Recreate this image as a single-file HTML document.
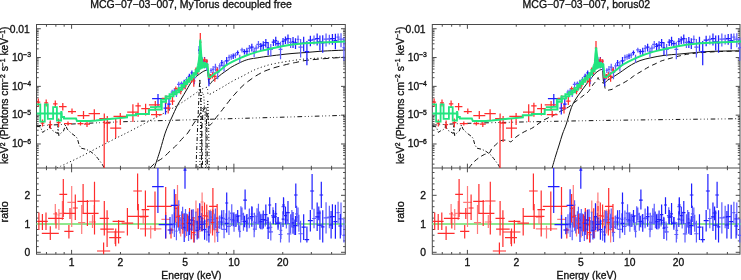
<!DOCTYPE html>
<html><head><meta charset="utf-8"><style>
html,body{margin:0;padding:0;background:#fff;width:741px;height:280px;overflow:hidden}
svg{display:block;will-change:transform;filter:blur(0.35px)}
</style></head><body>
<svg width="741" height="280" viewBox="0 0 741 280">
<defs><clipPath id="cu"><rect x="36.5" y="24.5" width="308.8" height="143.5"/></clipPath><clipPath id="cr"><rect x="36.5" y="168" width="308.8" height="86.2"/></clipPath></defs><rect x="36.5" y="24.5" width="308.8" height="229.7" fill="none" stroke="#4a4a4a" stroke-width="1"/>
<line x1="36.5" y1="168" x2="345.3" y2="168" stroke="#4a4a4a" stroke-width="1"/>
<path d="M46.46 24.5v2.2M46.46 168v-2.2M46.46 168v2.2M46.46 254.2v-2.2M55.87 24.5v2.2M55.87 168v-2.2M55.87 168v2.2M55.87 254.2v-2.2M64.17 24.5v2.2M64.17 168v-2.2M64.17 168v2.2M64.17 254.2v-2.2M71.6 24.5v4.3M71.6 168v-4.3M71.6 168v4.3M71.6 254.2v-4.3M120.46 24.5v2.2M120.46 168v-2.2M120.46 168v2.2M120.46 254.2v-2.2M149.04 24.5v2.2M149.04 168v-2.2M149.04 168v2.2M149.04 254.2v-2.2M169.31 24.5v2.2M169.31 168v-2.2M169.31 168v2.2M169.31 254.2v-2.2M185.04 24.5v2.2M185.04 168v-2.2M185.04 168v2.2M185.04 254.2v-2.2M197.89 24.5v2.2M197.89 168v-2.2M197.89 168v2.2M197.89 254.2v-2.2M208.76 24.5v2.2M208.76 168v-2.2M208.76 168v2.2M208.76 254.2v-2.2M218.17 24.5v2.2M218.17 168v-2.2M218.17 168v2.2M218.17 254.2v-2.2M226.47 24.5v2.2M226.47 168v-2.2M226.47 168v2.2M226.47 254.2v-2.2M233.9 24.5v4.3M233.9 168v-4.3M233.9 168v4.3M233.9 254.2v-4.3M282.76 24.5v2.2M282.76 168v-2.2M282.76 168v2.2M282.76 254.2v-2.2M311.34 24.5v2.2M311.34 168v-2.2M311.34 168v2.2M311.34 254.2v-2.2M331.61 24.5v2.2M331.61 168v-2.2M331.61 168v2.2M331.61 254.2v-2.2M36.5 164.12h2.2M345.3 164.12h-2.2M36.5 159.04h2.2M345.3 159.04h-2.2M36.5 155.44h2.2M345.3 155.44h-2.2M36.5 152.65h2.2M345.3 152.65h-2.2M36.5 150.37h2.2M345.3 150.37h-2.2M36.5 148.44h2.2M345.3 148.44h-2.2M36.5 146.77h2.2M345.3 146.77h-2.2M36.5 145.3h2.2M345.3 145.3h-2.2M36.5 143.98h4.3M345.3 143.98h-4.3M36.5 135.31h2.2M345.3 135.31h-2.2M36.5 130.23h2.2M345.3 130.23h-2.2M36.5 126.63h2.2M345.3 126.63h-2.2M36.5 123.84h2.2M345.3 123.84h-2.2M36.5 121.56h2.2M345.3 121.56h-2.2M36.5 119.63h2.2M345.3 119.63h-2.2M36.5 117.96h2.2M345.3 117.96h-2.2M36.5 116.49h2.2M345.3 116.49h-2.2M36.5 115.17h4.3M345.3 115.17h-4.3M36.5 106.5h2.2M345.3 106.5h-2.2M36.5 101.42h2.2M345.3 101.42h-2.2M36.5 97.82h2.2M345.3 97.82h-2.2M36.5 95.03h2.2M345.3 95.03h-2.2M36.5 92.75h2.2M345.3 92.75h-2.2M36.5 90.82h2.2M345.3 90.82h-2.2M36.5 89.15h2.2M345.3 89.15h-2.2M36.5 87.68h2.2M345.3 87.68h-2.2M36.5 86.36h4.3M345.3 86.36h-4.3M36.5 77.69h2.2M345.3 77.69h-2.2M36.5 72.61h2.2M345.3 72.61h-2.2M36.5 69.01h2.2M345.3 69.01h-2.2M36.5 66.22h2.2M345.3 66.22h-2.2M36.5 63.94h2.2M345.3 63.94h-2.2M36.5 62.01h2.2M345.3 62.01h-2.2M36.5 60.34h2.2M345.3 60.34h-2.2M36.5 58.87h2.2M345.3 58.87h-2.2M36.5 57.55h4.3M345.3 57.55h-4.3M36.5 48.88h2.2M345.3 48.88h-2.2M36.5 43.8h2.2M345.3 43.8h-2.2M36.5 40.2h2.2M345.3 40.2h-2.2M36.5 37.41h2.2M345.3 37.41h-2.2M36.5 35.13h2.2M345.3 35.13h-2.2M36.5 33.2h2.2M345.3 33.2h-2.2M36.5 31.53h2.2M345.3 31.53h-2.2M36.5 30.06h2.2M345.3 30.06h-2.2M36.5 28.74h4.3M345.3 28.74h-4.3M36.5 252.3h4.3M345.3 252.3h-4.3M36.5 246.6h2.2M345.3 246.6h-2.2M36.5 240.9h2.2M345.3 240.9h-2.2M36.5 235.2h2.2M345.3 235.2h-2.2M36.5 229.5h2.2M345.3 229.5h-2.2M36.5 223.8h4.3M345.3 223.8h-4.3M36.5 218.1h2.2M345.3 218.1h-2.2M36.5 212.4h2.2M345.3 212.4h-2.2M36.5 206.7h2.2M345.3 206.7h-2.2M36.5 201h2.2M345.3 201h-2.2M36.5 195.3h4.3M345.3 195.3h-4.3M36.5 189.6h2.2M345.3 189.6h-2.2M36.5 183.9h2.2M345.3 183.9h-2.2M36.5 178.2h2.2M345.3 178.2h-2.2M36.5 172.5h2.2M345.3 172.5h-2.2" stroke="#4a4a4a" stroke-width="1" fill="none"/>
<g font-family='"Liberation Sans", sans-serif' font-size="10.3" fill="#111" stroke="#111" stroke-width="0.32"><text x="71.6" y="265.6" text-anchor="middle">1</text><text x="120.46" y="265.6" text-anchor="middle">2</text><text x="185.04" y="265.6" text-anchor="middle">5</text><text x="233.9" y="265.6" text-anchor="middle">10</text><text x="282.76" y="265.6" text-anchor="middle">20</text><text x="29.8" y="33.24" text-anchor="end">0.01</text><text x="31.1" y="60.85" text-anchor="end">10<tspan font-size="6.8" dy="-3.6">−3</tspan></text><text x="31.1" y="89.66" text-anchor="end">10<tspan font-size="6.8" dy="-3.6">−4</tspan></text><text x="31.1" y="118.47" text-anchor="end">10<tspan font-size="6.8" dy="-3.6">−5</tspan></text><text x="31.1" y="147.28" text-anchor="end">10<tspan font-size="6.8" dy="-3.6">−6</tspan></text><text x="30.3" y="256" text-anchor="end">0</text><text x="30.3" y="227.5" text-anchor="end">1</text><text x="30.3" y="199" text-anchor="end">2</text><text x="191.4" y="278.6" text-anchor="middle">Energy (keV)</text><text x="191.1" y="7.7" text-anchor="middle" font-size="10.5">MCG−07−03−007, MyTorus decoupled free</text><text transform="translate(8.2,95.35) rotate(-90)" text-anchor="middle">keV<tspan font-size="6.8" dy="-3.6">2</tspan><tspan dy="3.6"> (Photons cm</tspan><tspan font-size="6.8" dy="-3.6">−2</tspan><tspan dy="3.6"> s</tspan><tspan font-size="6.8" dy="-3.6">−1</tspan><tspan dy="3.6"> keV</tspan><tspan font-size="6.8" dy="-3.6">−1</tspan><tspan dy="3.6">)</tspan></text><text transform="translate(8.2,211.9) rotate(-90)" text-anchor="middle" font-size="10.9">ratio</text></g><rect x="432.3" y="24.5" width="307.7" height="229.7" fill="none" stroke="#4a4a4a" stroke-width="1"/>
<line x1="432.3" y1="168" x2="740" y2="168" stroke="#4a4a4a" stroke-width="1"/>
<path d="M442.26 24.5v2.2M442.26 168v-2.2M442.26 168v2.2M442.26 254.2v-2.2M451.67 24.5v2.2M451.67 168v-2.2M451.67 168v2.2M451.67 254.2v-2.2M459.97 24.5v2.2M459.97 168v-2.2M459.97 168v2.2M459.97 254.2v-2.2M467.4 24.5v4.3M467.4 168v-4.3M467.4 168v4.3M467.4 254.2v-4.3M516.26 24.5v2.2M516.26 168v-2.2M516.26 168v2.2M516.26 254.2v-2.2M544.84 24.5v2.2M544.84 168v-2.2M544.84 168v2.2M544.84 254.2v-2.2M565.11 24.5v2.2M565.11 168v-2.2M565.11 168v2.2M565.11 254.2v-2.2M580.84 24.5v2.2M580.84 168v-2.2M580.84 168v2.2M580.84 254.2v-2.2M593.69 24.5v2.2M593.69 168v-2.2M593.69 168v2.2M593.69 254.2v-2.2M604.56 24.5v2.2M604.56 168v-2.2M604.56 168v2.2M604.56 254.2v-2.2M613.97 24.5v2.2M613.97 168v-2.2M613.97 168v2.2M613.97 254.2v-2.2M622.27 24.5v2.2M622.27 168v-2.2M622.27 168v2.2M622.27 254.2v-2.2M629.7 24.5v4.3M629.7 168v-4.3M629.7 168v4.3M629.7 254.2v-4.3M678.56 24.5v2.2M678.56 168v-2.2M678.56 168v2.2M678.56 254.2v-2.2M707.14 24.5v2.2M707.14 168v-2.2M707.14 168v2.2M707.14 254.2v-2.2M727.41 24.5v2.2M727.41 168v-2.2M727.41 168v2.2M727.41 254.2v-2.2M432.3 164.12h2.2M740 164.12h-2.2M432.3 159.04h2.2M740 159.04h-2.2M432.3 155.44h2.2M740 155.44h-2.2M432.3 152.65h2.2M740 152.65h-2.2M432.3 150.37h2.2M740 150.37h-2.2M432.3 148.44h2.2M740 148.44h-2.2M432.3 146.77h2.2M740 146.77h-2.2M432.3 145.3h2.2M740 145.3h-2.2M432.3 143.98h4.3M740 143.98h-4.3M432.3 135.31h2.2M740 135.31h-2.2M432.3 130.23h2.2M740 130.23h-2.2M432.3 126.63h2.2M740 126.63h-2.2M432.3 123.84h2.2M740 123.84h-2.2M432.3 121.56h2.2M740 121.56h-2.2M432.3 119.63h2.2M740 119.63h-2.2M432.3 117.96h2.2M740 117.96h-2.2M432.3 116.49h2.2M740 116.49h-2.2M432.3 115.17h4.3M740 115.17h-4.3M432.3 106.5h2.2M740 106.5h-2.2M432.3 101.42h2.2M740 101.42h-2.2M432.3 97.82h2.2M740 97.82h-2.2M432.3 95.03h2.2M740 95.03h-2.2M432.3 92.75h2.2M740 92.75h-2.2M432.3 90.82h2.2M740 90.82h-2.2M432.3 89.15h2.2M740 89.15h-2.2M432.3 87.68h2.2M740 87.68h-2.2M432.3 86.36h4.3M740 86.36h-4.3M432.3 77.69h2.2M740 77.69h-2.2M432.3 72.61h2.2M740 72.61h-2.2M432.3 69.01h2.2M740 69.01h-2.2M432.3 66.22h2.2M740 66.22h-2.2M432.3 63.94h2.2M740 63.94h-2.2M432.3 62.01h2.2M740 62.01h-2.2M432.3 60.34h2.2M740 60.34h-2.2M432.3 58.87h2.2M740 58.87h-2.2M432.3 57.55h4.3M740 57.55h-4.3M432.3 48.88h2.2M740 48.88h-2.2M432.3 43.8h2.2M740 43.8h-2.2M432.3 40.2h2.2M740 40.2h-2.2M432.3 37.41h2.2M740 37.41h-2.2M432.3 35.13h2.2M740 35.13h-2.2M432.3 33.2h2.2M740 33.2h-2.2M432.3 31.53h2.2M740 31.53h-2.2M432.3 30.06h2.2M740 30.06h-2.2M432.3 28.74h4.3M740 28.74h-4.3M432.3 252.3h4.3M740 252.3h-4.3M432.3 246.6h2.2M740 246.6h-2.2M432.3 240.9h2.2M740 240.9h-2.2M432.3 235.2h2.2M740 235.2h-2.2M432.3 229.5h2.2M740 229.5h-2.2M432.3 223.8h4.3M740 223.8h-4.3M432.3 218.1h2.2M740 218.1h-2.2M432.3 212.4h2.2M740 212.4h-2.2M432.3 206.7h2.2M740 206.7h-2.2M432.3 201h2.2M740 201h-2.2M432.3 195.3h4.3M740 195.3h-4.3M432.3 189.6h2.2M740 189.6h-2.2M432.3 183.9h2.2M740 183.9h-2.2M432.3 178.2h2.2M740 178.2h-2.2M432.3 172.5h2.2M740 172.5h-2.2" stroke="#4a4a4a" stroke-width="1" fill="none"/>
<g font-family='"Liberation Sans", sans-serif' font-size="10.3" fill="#111" stroke="#111" stroke-width="0.32"><text x="467.4" y="265.6" text-anchor="middle">1</text><text x="516.26" y="265.6" text-anchor="middle">2</text><text x="580.84" y="265.6" text-anchor="middle">5</text><text x="629.7" y="265.6" text-anchor="middle">10</text><text x="678.56" y="265.6" text-anchor="middle">20</text><text x="425.6" y="33.24" text-anchor="end">0.01</text><text x="426.9" y="60.85" text-anchor="end">10<tspan font-size="6.8" dy="-3.6">−3</tspan></text><text x="426.9" y="89.66" text-anchor="end">10<tspan font-size="6.8" dy="-3.6">−4</tspan></text><text x="426.9" y="118.47" text-anchor="end">10<tspan font-size="6.8" dy="-3.6">−5</tspan></text><text x="426.9" y="147.28" text-anchor="end">10<tspan font-size="6.8" dy="-3.6">−6</tspan></text><text x="426.1" y="256" text-anchor="end">0</text><text x="426.1" y="227.5" text-anchor="end">1</text><text x="426.1" y="199" text-anchor="end">2</text><text x="586.65" y="278.6" text-anchor="middle">Energy (keV)</text><text x="586.35" y="7.7" text-anchor="middle" font-size="10.5">MCG−07−03−007, borus02</text><text transform="translate(404,95.35) rotate(-90)" text-anchor="middle">keV<tspan font-size="6.8" dy="-3.6">2</tspan><tspan dy="3.6"> (Photons cm</tspan><tspan font-size="6.8" dy="-3.6">−2</tspan><tspan dy="3.6"> s</tspan><tspan font-size="6.8" dy="-3.6">−1</tspan><tspan dy="3.6"> keV</tspan><tspan font-size="6.8" dy="-3.6">−1</tspan><tspan dy="3.6">)</tspan></text><text transform="translate(404,211.9) rotate(-90)" text-anchor="middle" font-size="10.9">ratio</text></g><g clip-path="url(#cu)" transform="translate(0,0)"><path d="M154.3 168C154.83 166.42 156.47 161.65 157.5 158.5C158.53 155.35 159.27 153.2 160.5 149.1C161.73 145 163.52 138.08 164.9 133.9C166.28 129.72 167.62 126.82 168.8 124C169.98 121.18 171.05 119.08 172 117C172.95 114.92 173.53 113.58 174.5 111.5C175.47 109.42 176.73 106.5 177.8 104.5C178.87 102.5 179.87 101.2 180.9 99.5C181.93 97.8 182.82 96.3 184 94.3C185.18 92.3 186.62 89.78 188 87.5C189.38 85.22 190.87 82.47 192.3 80.6C193.73 78.73 195.42 77.38 196.6 76.3C197.78 75.22 198.45 74.82 199.4 74.1C200.35 73.38 201.35 72.58 202.3 72C203.25 71.42 204.22 70.93 205.1 70.6C205.98 70.27 207.18 70.1 207.6 70M207.6 70.3C207.9 72.5 208.5 81.8 209.4 83.5C210.3 85.2 211.67 81.5 213 80.5C214.33 79.5 216 78.55 217.4 77.5C218.8 76.45 219.63 75.53 221.4 74.2C223.17 72.87 226.22 70.75 228 69.5C229.78 68.25 229.63 68.07 232.1 66.7C234.57 65.33 239.82 62.58 242.8 61.3C245.78 60.02 247.62 59.57 250 59C252.38 58.43 254.43 58.32 257.1 57.9C259.77 57.48 262.18 57.02 266 56.5C269.82 55.98 275.67 55.3 280 54.8C284.33 54.3 287.67 53.88 292 53.5C296.33 53.12 301.33 52.87 306 52.5C310.67 52.13 315.17 51.63 320 51.3C324.83 50.97 330.78 50.7 335 50.5C339.22 50.3 343.58 50.17 345.3 50.1" stroke="#111" stroke-width="1" fill="none"/><path d="M57 168C57.5 167.75 58.97 167 60 166.5C61.03 166 59.87 166.58 63.2 165C66.53 163.42 73.87 160.08 80 157C86.13 153.92 94 149.63 100 146.5C106 143.37 111 140.75 116 138.2C121 135.65 124.33 134.13 130 131.2C135.67 128.27 144.5 123.52 150 120.6C155.5 117.68 158.53 116.18 163 113.7C167.47 111.22 172.63 108.23 176.8 105.7C180.97 103.17 184.43 100.88 188 98.5C191.57 96.12 195.87 92.98 198.2 91.4C200.53 89.82 200.43 89.73 202 89C203.57 88.27 206.67 87.33 207.6 87M207.6 89C207.72 89.92 207.47 93.88 208.3 94.5C209.13 95.12 211.35 93.3 212.6 92.7C213.85 92.1 214.85 91.43 215.8 90.9C216.75 90.37 217.43 89.98 218.3 89.5C219.17 89.02 220.05 88.54 221 88C221.95 87.46 223 86.85 224 86.25C225 85.65 226 85.01 227 84.4C228 83.79 228.5 83.45 230 82.6C231.5 81.75 234 80.33 236 79.3C238 78.27 239.43 77.73 242 76.4C244.57 75.07 249.3 72.4 251.4 71.3C253.5 70.2 253.52 70.27 254.6 69.8C255.68 69.33 256.82 68.92 257.9 68.5C258.98 68.08 260.03 67.67 261.1 67.3C262.17 66.93 262.82 66.75 264.3 66.3C265.78 65.85 267.38 65.22 270 64.6C272.62 63.98 276.43 63.25 280 62.6C283.57 61.95 288.9 61.1 291.4 60.7C293.9 60.3 293.8 60.37 295 60.2C296.2 60.03 297.42 59.85 298.6 59.7C299.78 59.55 300.2 59.48 302.1 59.3C304 59.12 307.02 58.8 310 58.6C312.98 58.4 315.83 58.28 320 58.1C324.17 57.92 330.78 57.67 335 57.5C339.22 57.33 343.58 57.17 345.3 57.1" stroke="#111" stroke-width="1" stroke-dasharray="1.1 2.5" fill="none"/><path d="M150 168C150.9 167.12 153.62 164.13 155.4 162.7C157.18 161.27 159.1 160.52 160.7 159.4C162.3 158.28 163.22 157.6 165 156C166.78 154.4 169.62 151.47 171.4 149.8C173.18 148.13 174.6 147.05 175.7 146C176.8 144.95 176.75 144.9 178 143.5C179.25 142.1 181.7 139.18 183.2 137.6C184.7 136.02 185.87 135.35 187 134C188.13 132.65 188.83 131.33 190 129.5C191.17 127.67 192.83 124.75 194 123C195.17 121.25 196 120.5 197 119C198 117.5 199.17 115.58 200 114C200.83 112.42 201.28 110.62 202 109.5C202.72 108.38 203.58 107.42 204.3 107.3C205.02 107.18 205.78 107.93 206.3 108.8C206.82 109.67 207.08 110.72 207.4 112.5C207.72 114.28 207.88 117.37 208.2 119.5C208.52 121.63 208.58 124.8 209.3 125.3C210.02 125.8 211.35 123.8 212.5 122.5C213.65 121.2 214.95 119.12 216.2 117.5C217.45 115.88 218.92 114.17 220 112.8C221.08 111.43 221.7 110.6 222.7 109.3C223.7 108 224.45 107 226 105C227.55 103 230.5 99.13 232 97.3C233.5 95.47 233.92 95.22 235 94C236.08 92.78 237.33 91.25 238.5 90C239.67 88.75 240.83 87.62 242 86.5C243.17 85.38 244.17 84.38 245.5 83.3C246.83 82.22 248.53 81.07 250 80C251.47 78.93 252.87 77.85 254.3 76.9C255.73 75.95 257.23 75.08 258.6 74.3C259.97 73.52 261.27 72.82 262.5 72.2C263.73 71.58 263.92 71.38 266 70.6C268.08 69.82 271 68.67 275 67.5C279 66.33 286.55 64.43 290 63.6C293.45 62.77 293.92 62.87 295.7 62.5C297.48 62.13 298.98 61.75 300.7 61.4C302.42 61.05 302.78 60.8 306 60.4C309.22 60 315.17 59.42 320 59C324.83 58.58 330.78 58.18 335 57.9C339.22 57.62 343.58 57.4 345.3 57.3" stroke="#111" stroke-width="1" stroke-dasharray="6 4" fill="none"/><path d="M36.5 125.8C40.42 125.6 49.42 125.12 60 124.6C70.58 124.08 88.33 123.22 100 122.7C111.67 122.18 116.67 121.93 130 121.5C143.33 121.07 155.83 120.78 180 120.1C204.17 119.42 247.33 118.2 275 117.4C302.67 116.6 334.17 115.65 346 115.3" stroke="#111" stroke-width="1" stroke-dasharray="4.6 2.6 0.8 2.6 0.8 2.6 0.8 2.6" fill="none"/><path d="M36.5 126L39 126.5L40.5 127L42.6 132.4L44.5 131L47 130L49.4 128L50 122.2L50.6 128L52.5 130.5L55 132L57.5 133.5L58.1 125.4L58.8 135.6L61 133L63.5 131L65.6 125L67.2 129.1L69.5 131.5L71.6 133.4L75.9 136.6L77.4 138.6L79.1 145L81.2 148.2L86 149.3L90.3 151.4L95.1 155L97.8 158.4L102.4 164.5L104.2 168" stroke="#111" stroke-width="1" stroke-dasharray="4 2 1 2" fill="none"/><path d="M196 168L197.5 130L199.2 90L199.8 79L200.4 90L201.6 130L202.6 168" stroke="#111" stroke-width="1" stroke-dasharray="4 2 1 2" fill="none"/><path d="M199.8 168L200.6 120L201.4 96L202.2 92L203.8 96L205.2 120L206.4 168" stroke="#111" stroke-width="1" stroke-dasharray="1 2" fill="none"/><path d="M201.3 168L202 125L203.2 110L204.6 108L206 112L206.9 130L207.4 168" stroke="#111" stroke-width="1" stroke-dasharray="5 3" fill="none"/><path d="M205.6 168L206.2 130L207 110L207.8 100L208.6 120L209.2 168" stroke="#111" stroke-width="1" stroke-dasharray="1 2" fill="none"/></g><g clip-path="url(#cu)" transform="translate(395.8,0)"><path d="M156.3 168C156.88 166 158.63 159.83 159.8 156C160.97 152.17 162.15 148.67 163.3 145C164.45 141.33 165.5 137.5 166.7 134C167.9 130.5 169.02 128.42 170.5 124C171.98 119.58 174.02 111.67 175.6 107.5C177.18 103.33 178.57 101.42 180 99C181.43 96.58 182.53 95.33 184.2 93C185.87 90.67 188.22 87.37 190 85C191.78 82.63 193.4 80.67 194.9 78.8C196.4 76.93 197.57 75.22 199 73.8C200.43 72.38 202.18 71.05 203.5 70.3C204.82 69.55 206.33 69.47 206.9 69.3M206.9 69.3C207.08 71.5 207.15 80.72 208 82.5C208.85 84.28 210.33 81 212 80C213.67 79 215.97 77.75 218 76.5C220.03 75.25 222.33 73.75 224.2 72.5C226.07 71.25 227.3 70.28 229.2 69C231.1 67.72 233.1 66.2 235.6 64.8C238.1 63.4 240.97 61.77 244.2 60.6C247.43 59.43 251 58.67 255 57.8C259 56.93 263.37 56.03 268.2 55.4C273.03 54.77 278.7 54.48 284 54C289.3 53.52 294.83 52.93 300 52.5C305.17 52.07 310 51.65 315 51.4C320 51.15 325.13 51.1 330 51C334.87 50.9 341.83 50.83 344.2 50.8" stroke="#111" stroke-width="1" fill="none"/><path d="M73.1 168C73.92 167 76.22 163.78 78 162C79.78 160.22 82.05 158.55 83.8 157.3C85.55 156.05 86.85 155.25 88.5 154.5C90.15 153.75 92.45 153.8 93.7 152.8C94.95 151.8 94.97 149.83 96 148.5C97.03 147.17 98.73 145.88 99.9 144.8C101.07 143.72 101.95 142.75 103 142C104.05 141.25 104.78 140.58 106.2 140.3C107.62 140.02 110.12 140.05 111.5 140.3C112.88 140.55 113.75 141.65 114.5 141.8C115.25 141.95 115.25 141.83 116 141.2C116.75 140.57 117.82 139.03 119 138C120.18 136.97 121.43 136.08 123.1 135C124.77 133.92 126.92 132.58 129 131.5C131.08 130.42 133.73 129.5 135.6 128.5C137.47 127.5 138.27 126.83 140.2 125.5C142.13 124.17 144.53 122.08 147.2 120.5C149.87 118.92 154.03 117.08 156.2 116C158.37 114.92 158.73 114.83 160.2 114C161.67 113.17 163.33 111.92 165 111C166.67 110.08 168.67 109.33 170.2 108.5C171.73 107.67 172.7 107.08 174.2 106C175.7 104.92 177.28 103.5 179.2 102C181.12 100.5 184.07 98.25 185.7 97C187.33 95.75 187.83 95.42 189 94.5C190.17 93.58 191.37 93.08 192.7 91.5C194.03 89.92 195.87 86.58 197 85C198.13 83.42 198.8 82.8 199.5 82C200.2 81.2 200.75 80.95 201.2 80.2C201.65 79.45 201.87 77.62 202.2 77.5C202.53 77.38 202.58 78.7 203.2 79.5C203.82 80.3 204.97 81.63 205.9 82.3C206.83 82.97 208.32 83.3 208.8 83.5M208.8 83.5C208.9 84.35 208.87 87.48 209.4 88.6C209.93 89.72 211.23 90 212 90.2C212.77 90.4 213.23 89.97 214 89.8C214.77 89.63 215.45 89.8 216.6 89.2C217.75 88.6 219.63 86.93 220.9 86.2C222.17 85.47 222.78 85.52 224.2 84.8C225.62 84.08 227.83 82.82 229.4 81.9C230.97 80.98 232.25 80.23 233.6 79.3C234.95 78.37 236.07 77.3 237.5 76.3C238.93 75.3 240.73 74.2 242.2 73.3C243.67 72.4 244.9 71.73 246.3 70.9C247.7 70.07 249.23 69.1 250.6 68.3C251.97 67.5 253.07 66.82 254.5 66.1C255.93 65.38 257.7 64.7 259.2 64C260.7 63.3 262 62.55 263.5 61.9C265 61.25 264.62 61.15 268.2 60.1C271.78 59.05 280.53 56.67 285 55.6C289.47 54.53 290.83 54.25 295 53.7C299.17 53.15 305 52.67 310 52.3C315 51.93 319.3 51.7 325 51.5C330.7 51.3 341 51.17 344.2 51.1" stroke="#111" stroke-width="1" stroke-dasharray="5 3.5" fill="none"/><path d="M36.5 125.2C41.08 124.93 53.42 124.03 64 123.6C74.58 123.17 86.67 122.93 100 122.6C113.33 122.27 126.67 121.95 144 121.6C161.33 121.25 183 120.83 204 120.5C225 120.17 246.45 119.9 270 119.6C293.55 119.3 332.75 118.85 345.3 118.7" stroke="#111" stroke-width="1" stroke-dasharray="4.6 2.6 0.8 2.6 0.8 2.6 0.8 2.6" fill="none"/><path d="M36.5 126L39 126.5L40.5 127L42.6 132.4L44.5 131L47 130L49.4 128L50 122.2L50.6 128L52.5 130.5L55 132L57.5 133.5L58.1 125.4L58.8 135.6L61 133L63.5 131L65.6 125L67.2 129.1L69.5 131.5L71.6 133.4L75.9 136.6L77.4 138.6L79.1 145L81.2 148.2L86 149.3L90.3 151.4L95.1 155L97.8 158.4L102.4 164.5L104.2 168" stroke="#111" stroke-width="1" stroke-dasharray="4 2 1 2" fill="none"/></g><g clip-path="url(#cu)" transform="translate(0,0)"><path d="M152.1 98.6h11.8M158 94.1V105.9M163.5 108h4M165.5 102.7V114.5M167.2 104h3.6M169 99V110" stroke="#1e1eff" stroke-width="1.25" fill="none"/><path d="M170.63 92.05h3.07M172.16 89.76V94.86M173.25 91.15h2.2M174.35 88.24V94.93M175.3 93.19h2.22M176.42 90.33V96.91M177 84.39h3.54M178.77 81.64V87.94M179.95 83.33h3.23M181.57 81.43V85.57M185.32 79.63h2.73M186.68 76.93V83.1M192.58 77.69h3.63M194.4 72.62V84.28M205.37 64.37h2.91M206.83 59.5V70.69M209.93 70.35h2.2M211.03 68.14V73.04M211.99 69.37h2.32M213.15 65.9V73.87M214.06 67.11h2.73M215.43 63.74V71.5M215.97 72.4h3.44M217.69 67.08V79.31M218.42 65.87h2.76M219.8 63.13V69.38M222.19 65.75h3.74M224.06 61.37V71.45M227.97 57.37h2.3M229.12 54.7V60.79M230.01 56.8h2.49M231.26 54.37V59.82M234.01 55.23h2.75M235.39 52.75V58.33M238.57 58.31h2.37M239.76 54.84V62.83M240.34 49.91h3.38M242.02 47.81V52.44M248 48.32h2.79M249.39 45.12V52.48M252.88 51.72h2.53M254.15 47.72V56.92M254.64 48.23h3.03M256.15 45.35V51.97M256.35 44.3h4.17M258.44 41.12V48.44M268.67 49.31h4.27M270.81 43.94V56.29M278.57 49.36h3.92M280.53 41.77V59.22M288.97 42.28h3.29M290.62 37.93V47.95M296.73 39.27h2.63M298.04 35.57V44.09M298.41 47.08h4.36M300.6 39.12V57.44M312.13 39.34h3.77M314.02 35.41V44.46M323.57 39.14h4.96M326.05 33.4V46.61M327.33 38.93h4.06M329.36 34.63V44.53M336.5 37.22h3.17M338.08 33.46V42.1M338.68 39.23h4.63M341 33.15V47.14M342.48 47.55h2.93M343.94 37.48V60.64" stroke="#5c5cff" stroke-width="1.25" fill="none"/><path d="M182.93 83.57h2.56M184.21 79.84V88.41M187.75 76.49h3.19M189.34 73.82V79.89M190.5 72.86h2.81M191.91 70.61V75.62M195.53 71.05h3.25M197.15 68.24V74.7M198.17 60.48h2.97M199.66 57.98V63.62M200.23 60.25h3.51M201.98 57.18V64.24M202.92 61.8h3.3M204.57 56.91V68.17M207.79 79.1h2.24M208.91 73.68V86.15M220.61 62.69h2.32M221.78 59.99V66.13M224.7 60.8h3.99M226.7 57.07V65.65M232.14 55.94h2.2M233.24 53.51V58.98M236.28 52.58h2.8M237.68 50.41V55.21M242.94 51.59h3.07M244.47 49.25V54.48M245.51 51.25h2.85M246.94 47.69V55.88M249.93 47.09h3.8M251.83 43.72V51.48M259.37 46.48h2.85M260.8 43.03V50.97M261.27 45.03h4M263.27 41.25V49.94M264.2 42.72h3.29M265.84 39.05V47.49M266.74 47.79h2.81M268.15 42.12V55.16M271.67 42.13h3.55M273.45 39.23V45.89M274.35 40.65h2.8M275.76 36.74V45.73M276.24 43.74h3.65M278.07 40.64V47.77M281.67 41.29h2.75M283.04 37.94V45.64M283.99 39.78h2.92M285.45 36.47V44.08M286.31 38.52h3.34M287.98 34.59V43.63M291.8 41.73h2.43M293.02 36.9V48.02M293.66 42.81h3.71M295.51 38.13V48.88M301.49 43.18h4.36M303.67 36.86V51.4M304.68 51.61h4.46M306.91 41.03V65.36M307.86 40.23h4.98M310.35 35.68V46.13M315.19 38.71h3.95M317.16 33.5V45.47M317.77 41.96h4.26M319.9 35.39V50.5M320.95 42.91h3.55M322.73 35.25V52.86M330.17 38.71h4.49M332.41 34.12V44.67M333.41 40.51h3.94M335.38 33.79V49.25M345.26 42.64h3.57M347.05 36.59V50.49" stroke="#1e1eff" stroke-width="1.25" fill="none"/><path d="M36.3 102h4M38.3 98.5V106.5M40.7 123h3.6M42.5 119.5V126.5M44.2 102.8h4M46.2 99.5V106.5M48.3 124.5h4M50.3 120.6V129M53.1 103.9h4.4M55.3 100.5V107.5M56.6 122.7h4M58.6 118.4V127M59 106.6h7.6M62.8 103V110.5M64 123.5h8M68 121.5V125.5M68 111.5h8M72 108.5V114M77.5 123.5h6M80.5 122V125.5M77.5 115.5h12M83.5 111V119M84 124h6M87 121V127M88.6 113.6h11.4M94.3 109.3V120M99.3 118.6h10M104.3 113.6V127.9M103.2 122h2M104.2 118V168M104.3 123h6M107.3 116V142M110.2 128h11M115.7 118V138M113.5 116.4h13.6M120.3 113V125M127.2 112.1h11.4M132.9 104.3V122M135.4 105.9h5.4M138.1 102.7V116.7M141.3 108.6h8.6M145.6 103.8V115.6M148.9 104.9h12.8M155.3 101.1V110.8M151 114.5h10.8M156.4 110.8V117.2M161.7 98.4h8.6M166 95.2V103.8M165.7 108h5M168.2 104.9V113.4M170.3 101h4.4M172.5 97V105M174.45 88.52h2.74M175.82 86.49V90.96M176.73 89.1h3.27M178.36 87.17V91.38M179.51 91.27h2.42M180.72 88.95V94.13M181.66 87.24h2.43M182.88 85.07V89.88M183.62 85.97h3.33M185.29 83.41V89.21M186.24 81.94h2.77M187.63 80.08V84.13M188.13 78.91h2.79M189.53 76.63V81.7M190.21 79.04h2.65M191.53 75.91V83.11M192.12 80.97h3.3M193.77 76.5V86.78M194.89 69.38h2.13M195.96 67.57V71.5M196.95 70.12h1.85M197.87 67.06V74.1M198.54 64.44h2.9M200 61.9V67.64M201.08 61.5h2.27M202.22 59.21V64.3M203.01 59.82h2.95M204.49 57.57V62.56M205.5 61.16h2.54M206.77 59.15V63.56M207.75 75.61h1.89M208.7 72.94V79.02M209.47 76.3h2.11M210.53 73.91V79.27M210.92 75.04h3.23M212.53 72.36V78.46M212.95 76.43h3.73M214.82 72.37V81.71M215.96 69.94h2.41M217.16 67.42V73.12" stroke="#ff2c2c" stroke-width="1.25" fill="none"/><path d="M199.1 42h2.4M200.3 33V53" stroke="#ff2c2c" stroke-width="1.25" fill="none"/><path d="M198 50h2.4M199.2 46V54" stroke="#1e1eff" stroke-width="1.25" fill="none"/><path d="M36.5 113.5L61.5 113.5L61.5 117L64 117L64 118.5L76 118.5L77 121L90 121L96 120.5L112 118.8L127 117.4L127 115.5L127 115.35L136 115.35L136 113.9L148.9 113.9L148.9 109.81L155 109.81L155 109.41L161.7 109.41L161.7 101.75L166 101.75L166 98.6L170.3 98.6L170.3 96.19L173.5 96.19L173.5 94.35L176.5 94.35L176.5 92.37L179.3 92.37L179.3 89.82L182 89.82L182 86.8L184.6 86.8L184.6 83.99L187.1 83.99L187.1 81.66L189.5 81.66L189.5 79.5L191.8 79.5L191.8 77.33L194 77.33L194 74.86L196.2 74.86L196.2 71.17L198.8 71.17L198.8 68.5L199.6 55L200.3 39.5L201.2 55L202.3 63.5L204.3 62.8L207.5 64.5L208.8 77L210.5 77.3L215 73.5L218.6 71.3L221.4 69.2L226 65.2L232.1 61.8L240 58.1L245 56L250 54.1L257 51.9L262 50.6L266 49.7L270 48.8L282 46.2L292 44.6L305 43.3L320 42.4L335 41.9L345.3 41.6" stroke="#22e57f" stroke-width="2" fill="none"/><path d="M150 107.14L156 107.14L156 106.8L161 106.8L161 99.64L165.5 99.64L165.5 96.42L169.5 96.42L169.5 94.06L172.8 94.06L172.8 92.15L175.8 92.15L175.8 90.42L178.6 90.42L178.6 87.87L181.3 87.87L181.3 85.02L183.9 85.02L183.9 82.06L186.4 82.06L186.4 79.73L188.8 79.73L188.8 77.54L191.1 77.54L191.1 75.49L193.3 75.49L193.3 73.07L195.5 73.07L195.5 70.23L197.6 70.23" stroke="#22e57f" stroke-width="1.8" fill="none"/><path d="M36.5 104.4L40.3 104.4L40.3 121.6L44.8 121.6L44.8 104.4L47.8 104.4L47.8 118.9L53.1 118.9L53.1 107.1L56.9 107.1L56.9 120.5L61.2 120.5L61.2 111.9L61.5 111.9L61.5 117" stroke="#22e57f" stroke-width="1.8" fill="none"/><path d="M195.5 72L197.4 65.4L198.4 60L199.2 54.7L200.05 41L200.9 54.7L201.8 60L203 64L204.5 63.5L207.2 63.6L207.6 67L203 68L199 70L196 74Z" fill="#22e57f" stroke="#22e57f" stroke-width="0.8"/></g><g clip-path="url(#cr)" transform="translate(0,0)"><path d="M36 223.9H346" stroke="#8ee88e" stroke-width="2" fill="none"/><path d="M200.6 202h3M202.1 192.6V211M57.4 215h3M58.9 208.9V230M53.3 213.9h4M55.3 203.9V224M59.1 213.4h6.6M62.4 201V220M67.4 202.4h8.6M71.7 186V227M78.1 222.7h7.2M81.7 205V234.1M89 222h7M92.5 215V228M140 217.1h6.4M143.2 210V224M161.4 219.3h8.6M165.7 212V226M140 228.9h21.4M150.7 225.7V238.5M175 205h5M177.5 185.1V217.1M179.51 227.08h2.42M180.72 217.61V236.55M183.62 226.93h3.33M185.29 216.32V237.55M194.89 212.04h2.13M195.96 200.51V223.56M198.54 217.83h2.9M200 203.55V232.11M207.75 222.89h1.89M208.7 210.03V235.76M209.47 221.47h2.11M210.53 209.5V233.43M212.95 229.53h3.73M214.82 213.46V242.5" stroke="#ff7a7a" stroke-width="1.2" fill="none"/><path d="M170.63 223.86h3.07M172.16 214.23V233.48M173.25 224.77h2.2M174.35 212.6V236.93M175.3 231.09h2.22M176.42 221.89V240.28M177 215.46h3.54M178.77 200.16V230.76M179.95 220.12h3.23M181.57 211.23V229M185.32 224.78h2.73M186.68 213.58V235.98M192.58 234.77h3.63M194.4 219.99V242.5M205.37 231.96h2.91M206.83 223.06V240.86M209.93 217.19h2.2M211.03 210.96V223.43M211.99 219.37h2.32M213.15 209.69V229.04M214.06 218.15h2.73M215.43 208.43V227.88M215.97 232.35h3.44M217.69 222.62V242.09M218.42 222.21h2.76M219.8 215.45V228.97M222.19 229.38h3.74M224.06 220.53V238.22M227.97 217.99h2.3M229.12 210.47V225.51M230.01 219.62h2.49M231.26 213.18V226.06M234.01 220.68h2.75M235.39 214.3V227.05M238.57 231.36h2.37M239.76 225.19V237.52M240.34 214.06h3.38M242.02 207.62V220.49M248 217.81h2.79M249.39 208.56V227.06M252.88 229.08h2.53M254.15 221.02V237.14M254.64 223h3.03M256.15 216.03V229.97M256.35 214.05h4.17M258.44 203.85V224.26M268.67 231.91h4.27M270.81 223.38V240.43M278.57 234.48h3.92M280.53 222.89V242.5M288.97 223.64h3.29M290.62 214.34V232.94M296.73 217.07h2.63M298.04 207.61V226.54M298.41 233.75h4.36M300.6 220.86V242.5M312.13 218.49h3.77M314.02 208.77V228.21M323.57 217.82h4.96M326.05 202.16V233.49M327.33 217.06h4.06M329.36 205.79V228.34M336.5 212.64h3.17M338.08 201.82V223.46M338.68 218.82h4.63M341 202.47V235.16M342.48 235.32h2.93M343.94 218.91V242.5M175.61 217.3h3.32M177.27 206.98V227.62M178.13 225.25h3.54M179.9 217.08V233.43M181.17 218.42h2.91M182.63 206.78V230.07M183.97 220.06h3.05M185.49 208.98V231.13M186.82 228.4h3.48M188.56 215.77V241.02M190.06 229.29h2.2M191.16 219.15V239.43M191.88 217.81h2.82M193.29 209.31V226.32M193.82 221.78h4.17M195.91 211.7V231.87M196.63 227.61h4.16M198.71 216.71V238.51M199.33 221.89h4.55M201.61 212.93V230.85M202.66 223.26h3.47M204.39 217.08V229.44M205.3 221.11h3.06M206.82 212.12V230.1M207.2 219.55h4.87M209.64 210.56V228.54M210.91 222.93h3.18M212.5 213.33V232.53M213.72 222.32h2.2M214.82 214.32V230.32M215.32 227.03h3.49M217.07 217.51V236.56M217.75 221.97h3.17M219.34 215.72V228.23M220.11 222.06h2.81M221.51 214.38V229.74M222.54 218.39h2.38M223.73 209.93V226.86M224.65 219.41h2.91M226.1 213.31V225.51M227.15 226.3h3.57M228.94 217.51V235.09M230.04 213.21h3.43M231.75 204.19V222.24M232.5 222.01h3.1M234.05 212.37V231.65M235.06 220.26h2.5M236.31 213.78V226.74M237.27 222.69h2.58M238.56 214.9V230.48M239.25 215.86h3.28M240.89 206.36V225.37M241.43 221.76h4.16M243.5 212.68V230.84M244.68 221.13h3.32M246.34 214.86V227.39M247.07 218.77h4.42M249.27 209.35V228.19M250.63 213.98h2.89M252.08 206.93V221.03M253.28 222.35h2.36M254.46 212.83V231.87M255.22 216.22h3.51M256.98 208.37V224.07M258.1 219.92h2.95M259.58 211.5V228.33M260.43 221.63h3.53M262.2 213.7V229.56M263.29 220.32h3.93M265.26 214.26V226.38M266.58 222.68h2.53M267.85 216.74V228.61M268.09 227.24h4.27M270.23 221.51V232.97M271.08 215.64h3.77M272.96 207.36V223.92M273.9 216.6h3.08M275.44 211.31V221.89M275.92 222.24h4.36M278.1 217.01V227.46M279.62 230.43h2.7M280.97 221.97V238.89M281.54 206.69h4.09M283.59 198.2V215.18M284.61 220.21h3.49M286.36 211.87V228.55M287.06 233.81h4.3M289.21 224.57V242.5M290.15 218.85h3.44M291.87 210.11V227.58M292.67 227.17h3.36M294.35 219.38V234.96M295.12 213.84h3.01M296.63 205.8V221.89M297.25 223.35h3.33M298.91 214.87V231.83" stroke="#5c5cff" stroke-width="1.2" fill="none"/><path d="M209.1 206.4h7.6M212.9 188V214M37.1 221.3h3.6M38.9 212.4V229.9M40.6 221.3h3.6M42.4 213.9V229.9M44.2 221.3h3.6M46 212.4V229.9M41.8 233.4h17M50.3 226.3V239.9M48.1 218.4h15.8M56 212V228.4M59.4 194.3h7.8M63.3 178.9V217M64 213.4h12M70 208V219M64.3 231.3h9.2M68.9 224.9V238.4M72.8 208h5M75.3 194.6V220M77.4 201.4h11.4M83.1 183.9V213.9M82.4 213.4h10M87.4 200V226M89.3 201h10.4M94.5 181.7V234.5M90 213.4h8.6M94.3 205V222M99.7 218.4h9.2M104.3 201V235.6M100.3 229.1h13.6M107.1 210.3V247M97 251h13.2M103.6 242.5V256M106.8 232h17.8M115.7 228.4V246.3M109.2 237.7h12M115.2 231V244M112.6 221.3h12M118.6 219.9V243.4M121.6 223.1h11.6M127.4 208V235.6M133.3 191h8.6M137.6 173.5V210.3M128 216.3h20.6M138.3 203.9V229.1M141.6 209.6h7.6M145.4 190.4V236.4M147 206.4h16M155 191.4V231M159.8 206.4h11.8M165.7 187.1V238.5M168.5 230h5M171 227.8V238.5M174.45 208.37h2.74M175.82 194.11V222.63M176.73 216.44h3.27M178.36 205.47V227.4M181.66 223.69h2.43M182.88 213.7V233.68M186.24 222.95h2.77M187.63 214.29V231.61M188.13 219.83h2.79M189.53 207.9V231.77M190.21 224.59h2.65M191.53 210.09V239.09M192.12 232.64h3.3M193.77 217.09V242.5M196.95 223.13h1.85M197.87 208.25V238.02M201.08 218.48h2.27M202.22 206V230.96M203.01 215.74h2.95M204.49 202.51V228.96M205.5 216.12h2.54M206.77 204.52V227.72M210.92 222.51h3.23M212.53 209.44V235.59M215.96 218.15h2.41M217.16 204.1V232.2" stroke="#ff2c2c" stroke-width="1.2" fill="none"/><path d="M183.5 170.1h3M185 165V188.7M225.2 203h3M226.7 192.6V214M243.3 200.2h3.6M245.1 189.5V209.5M268.2 205h3M269.7 197.2V214M282 205h3M283.5 197.2V214M294 195h3.6M295.8 183.4V208M310.1 191h4M312.1 174.1V209.5M319.5 195h3.6M321.3 181.8V208M316.8 213h4M318.8 206.4V220.2M329.1 225h4M331.1 211V238.6M338.3 226h4M340.3 214V238.6M152.1 186.6h11.6M157.9 166V213M158.7 224.6h14M165.7 215V238.5M167.5 230h5M170 217V234.3M170.8 205.3h7M174.3 189.3V227.8" stroke="#1e1eff" stroke-width="1.2" fill="none"/><path d="M182.93 227.73h2.56M184.21 213.37V242.1M187.75 223.34h3.19M189.34 211.74V234.94M190.5 220.15h2.81M191.91 209.47V230.84M195.53 230.23h3.25M197.15 220.83V239.62M198.17 216.6h2.97M199.66 203.29V229.91M200.23 224.44h3.51M201.98 217.3V231.57M202.92 229.62h3.3M204.57 219.61V239.63M207.79 234.78h2.24M208.91 226.03V242.5M220.61 217.86h2.32M221.78 210.25V225.47M224.7 223.35h3.99M226.7 214.09V232.6M232.14 219.98h2.2M233.24 213.59V226.36M236.28 216.33h2.8M237.68 210.07V222.59M242.94 221.52h3.07M244.47 215.7V227.35M245.51 222.99h2.85M246.94 214.11V231.86M249.93 216.56h3.8M251.83 206.37V226.75M259.37 221.74h2.85M260.8 214.17V229.3M261.27 219.5h4M263.27 210.49V228.5M264.2 214.53h3.29M265.84 204.49V224.56M266.74 228.21h2.81M268.15 217.45V238.98M271.67 217.14h3.55M273.45 210.01V224.27M274.35 213.89h2.8M275.76 202.91V224.87M276.24 223.29h3.65M278.07 216.94V229.64M281.67 219.08h2.75M283.04 211.14V227.02M283.99 215.56h2.92M285.45 206.9V224.22M286.31 212.54h3.34M287.98 201.12V223.97M291.8 222.83h2.43M293.02 212V233.66M293.66 225.54h3.71M295.51 216.1V234.99M301.49 227.18h4.36M303.67 214.31V240.06M304.68 239.68h4.46M306.91 226.57V242.5M307.86 220.72h4.98M310.35 209.95V231.49M315.19 216.79h3.95M317.16 202.52V231.07M317.77 225.06h4.26M319.9 210.38V239.73M320.95 226.97h3.55M322.73 210.28V242.5M330.17 216.62h4.49M332.41 204.3V228.94M333.41 221.71h3.94M335.38 204.74V238.68M345.26 227.13h3.57M347.05 214.94V239.31" stroke="#1e1eff" stroke-width="1.2" fill="none"/></g><g clip-path="url(#cu)" transform="translate(395.8,0)"><path d="M152.1 98.6h11.8M158 94.1V105.9M163.5 108h4M165.5 102.7V114.5M167.2 104h3.6M169 99V110" stroke="#1e1eff" stroke-width="1.25" fill="none"/><path d="M170.63 92.05h3.07M172.16 89.76V94.86M173.25 91.15h2.2M174.35 88.24V94.93M175.3 93.19h2.22M176.42 90.33V96.91M177 84.39h3.54M178.77 81.64V87.94M179.95 83.33h3.23M181.57 81.43V85.57M185.32 79.63h2.73M186.68 76.93V83.1M192.58 77.69h3.63M194.4 72.62V84.28M205.37 64.37h2.91M206.83 59.5V70.69M209.93 70.35h2.2M211.03 68.14V73.04M211.99 69.37h2.32M213.15 65.9V73.87M214.06 67.11h2.73M215.43 63.74V71.5M215.97 72.4h3.44M217.69 67.08V79.31M218.42 65.87h2.76M219.8 63.13V69.38M222.19 65.75h3.74M224.06 61.37V71.45M227.97 57.37h2.3M229.12 54.7V60.79M230.01 56.8h2.49M231.26 54.37V59.82M234.01 55.23h2.75M235.39 52.75V58.33M238.57 58.31h2.37M239.76 54.84V62.83M240.34 49.91h3.38M242.02 47.81V52.44M248 48.32h2.79M249.39 45.12V52.48M252.88 51.72h2.53M254.15 47.72V56.92M254.64 48.23h3.03M256.15 45.35V51.97M256.35 44.3h4.17M258.44 41.12V48.44M268.67 49.31h4.27M270.81 43.94V56.29M278.57 49.36h3.92M280.53 41.77V59.22M288.97 42.28h3.29M290.62 37.93V47.95M296.73 39.27h2.63M298.04 35.57V44.09M298.41 47.08h4.36M300.6 39.12V57.44M312.13 39.34h3.77M314.02 35.41V44.46M323.57 39.14h4.96M326.05 33.4V46.61M327.33 38.93h4.06M329.36 34.63V44.53M336.5 37.22h3.17M338.08 33.46V42.1M338.68 39.23h4.63M341 33.15V47.14M342.48 47.55h2.93M343.94 37.48V60.64" stroke="#5c5cff" stroke-width="1.25" fill="none"/><path d="M182.93 83.57h2.56M184.21 79.84V88.41M187.75 76.49h3.19M189.34 73.82V79.89M190.5 72.86h2.81M191.91 70.61V75.62M195.53 71.05h3.25M197.15 68.24V74.7M198.17 60.48h2.97M199.66 57.98V63.62M200.23 60.25h3.51M201.98 57.18V64.24M202.92 61.8h3.3M204.57 56.91V68.17M207.79 79.1h2.24M208.91 73.68V86.15M220.61 62.69h2.32M221.78 59.99V66.13M224.7 60.8h3.99M226.7 57.07V65.65M232.14 55.94h2.2M233.24 53.51V58.98M236.28 52.58h2.8M237.68 50.41V55.21M242.94 51.59h3.07M244.47 49.25V54.48M245.51 51.25h2.85M246.94 47.69V55.88M249.93 47.09h3.8M251.83 43.72V51.48M259.37 46.48h2.85M260.8 43.03V50.97M261.27 45.03h4M263.27 41.25V49.94M264.2 42.72h3.29M265.84 39.05V47.49M266.74 47.79h2.81M268.15 42.12V55.16M271.67 42.13h3.55M273.45 39.23V45.89M274.35 40.65h2.8M275.76 36.74V45.73M276.24 43.74h3.65M278.07 40.64V47.77M281.67 41.29h2.75M283.04 37.94V45.64M283.99 39.78h2.92M285.45 36.47V44.08M286.31 38.52h3.34M287.98 34.59V43.63M291.8 41.73h2.43M293.02 36.9V48.02M293.66 42.81h3.71M295.51 38.13V48.88M301.49 43.18h4.36M303.67 36.86V51.4M304.68 51.61h4.46M306.91 41.03V65.36M307.86 40.23h4.98M310.35 35.68V46.13M315.19 38.71h3.95M317.16 33.5V45.47M317.77 41.96h4.26M319.9 35.39V50.5M320.95 42.91h3.55M322.73 35.25V52.86M330.17 38.71h4.49M332.41 34.12V44.67M333.41 40.51h3.94M335.38 33.79V49.25M345.26 42.64h3.57M347.05 36.59V50.49" stroke="#1e1eff" stroke-width="1.25" fill="none"/><path d="M36.3 102h4M38.3 98.5V106.5M40.7 123h3.6M42.5 119.5V126.5M44.2 102.8h4M46.2 99.5V106.5M48.3 124.5h4M50.3 120.6V129M53.1 103.9h4.4M55.3 100.5V107.5M56.6 122.7h4M58.6 118.4V127M59 106.6h7.6M62.8 103V110.5M64 123.5h8M68 121.5V125.5M68 111.5h8M72 108.5V114M77.5 123.5h6M80.5 122V125.5M77.5 115.5h12M83.5 111V119M84 124h6M87 121V127M88.6 113.6h11.4M94.3 109.3V120M99.3 118.6h10M104.3 113.6V127.9M103.2 122h2M104.2 118V168M104.3 123h6M107.3 116V142M110.2 128h11M115.7 118V138M113.5 116.4h13.6M120.3 113V125M127.2 112.1h11.4M132.9 104.3V122M135.4 105.9h5.4M138.1 102.7V116.7M141.3 108.6h8.6M145.6 103.8V115.6M148.9 104.9h12.8M155.3 101.1V110.8M151 114.5h10.8M156.4 110.8V117.2M161.7 98.4h8.6M166 95.2V103.8M165.7 108h5M168.2 104.9V113.4M170.3 101h4.4M172.5 97V105M174.45 88.52h2.74M175.82 86.49V90.96M176.73 89.1h3.27M178.36 87.17V91.38M179.51 91.27h2.42M180.72 88.95V94.13M181.66 87.24h2.43M182.88 85.07V89.88M183.62 85.97h3.33M185.29 83.41V89.21M186.24 81.94h2.77M187.63 80.08V84.13M188.13 78.91h2.79M189.53 76.63V81.7M190.21 79.04h2.65M191.53 75.91V83.11M192.12 80.97h3.3M193.77 76.5V86.78M194.89 69.38h2.13M195.96 67.57V71.5M196.95 70.12h1.85M197.87 67.06V74.1M198.54 64.44h2.9M200 61.9V67.64M201.08 61.5h2.27M202.22 59.21V64.3M203.01 59.82h2.95M204.49 57.57V62.56M205.5 61.16h2.54M206.77 59.15V63.56M207.75 75.61h1.89M208.7 72.94V79.02M209.47 76.3h2.11M210.53 73.91V79.27M210.92 75.04h3.23M212.53 72.36V78.46M212.95 76.43h3.73M214.82 72.37V81.71M215.96 69.94h2.41M217.16 67.42V73.12" stroke="#ff2c2c" stroke-width="1.25" fill="none"/><path d="M199.0 48h2.4M200.2 41V55" stroke="#ff2c2c" stroke-width="1.25" fill="none"/><path d="M36.5 113.5L61.5 113.5L61.5 117L64 117L64 118.5L76 118.5L77 121L90 121L96 120.5L112 118.8L127 117.4L127 115.5L127 115.35L136 115.35L136 113.9L148.9 113.9L148.9 109.81L155 109.81L155 109.41L161.7 109.41L161.7 101.75L166 101.75L166 98.6L170.3 98.6L170.3 96.19L173.5 96.19L173.5 94.35L176.5 94.35L176.5 92.37L179.3 92.37L179.3 89.82L182 89.82L182 86.8L184.6 86.8L184.6 83.99L187.1 83.99L187.1 81.66L189.5 81.66L189.5 79.5L191.8 79.5L191.8 77.33L194 77.33L194 74.86L196.2 74.86L196.2 71.17L198.8 71.17L198.8 68.5L199.6 55L200.3 47.5L201.2 55L202.3 63.5L204.3 62.8L207.5 64.5L208.8 77L210.5 77.3L215 73.5L218.6 71.3L221.4 69.2L226 65.2L232.1 61.8L240 58.1L245 56L250 54.1L257 51.9L262 50.6L266 49.7L270 48.8L282 46.2L292 44.6L305 43.3L320 42.4L335 41.9L345.3 41.6" stroke="#22e57f" stroke-width="2" fill="none"/><path d="M150 107.14L156 107.14L156 106.8L161 106.8L161 99.64L165.5 99.64L165.5 96.42L169.5 96.42L169.5 94.06L172.8 94.06L172.8 92.15L175.8 92.15L175.8 90.42L178.6 90.42L178.6 87.87L181.3 87.87L181.3 85.02L183.9 85.02L183.9 82.06L186.4 82.06L186.4 79.73L188.8 79.73L188.8 77.54L191.1 77.54L191.1 75.49L193.3 75.49L193.3 73.07L195.5 73.07L195.5 70.23L197.6 70.23" stroke="#22e57f" stroke-width="1.8" fill="none"/><path d="M36.5 104.4L40.3 104.4L40.3 121.6L44.8 121.6L44.8 104.4L47.8 104.4L47.8 118.9L53.1 118.9L53.1 107.1L56.9 107.1L56.9 120.5L61.2 120.5L61.2 111.9L61.5 111.9L61.5 117" stroke="#22e57f" stroke-width="1.8" fill="none"/><path d="M195.5 72L197.4 65.4L198.4 63.25L199.2 59.25L200.05 47.5L200.9 59.25L201.8 63.25L203 64L204.5 63.5L207.2 63.6L207.6 67L203 68L199 70L196 74Z" fill="#22e57f" stroke="#22e57f" stroke-width="0.8"/></g><g clip-path="url(#cr)" transform="translate(395.8,0)"><path d="M36 223.9H346" stroke="#8ee88e" stroke-width="2" fill="none"/><path d="M200.6 202h3M202.1 192.6V211M57.4 215h3M58.9 208.9V230M53.3 213.9h4M55.3 203.9V224M59.1 213.4h6.6M62.4 201V220M67.4 202.4h8.6M71.7 186V227M78.1 222.7h7.2M81.7 205V234.1M89 222h7M92.5 215V228M140 217.1h6.4M143.2 210V224M161.4 219.3h8.6M165.7 212V226M140 228.9h21.4M150.7 225.7V238.5M175 205h5M177.5 185.1V217.1M179.51 227.08h2.42M180.72 217.61V236.55M183.62 226.93h3.33M185.29 216.32V237.55M194.89 212.04h2.13M195.96 200.51V223.56M198.54 217.83h2.9M200 203.55V232.11M207.75 222.89h1.89M208.7 210.03V235.76M209.47 221.47h2.11M210.53 209.5V233.43M212.95 229.53h3.73M214.82 213.46V242.5" stroke="#ff7a7a" stroke-width="1.2" fill="none"/><path d="M170.63 223.86h3.07M172.16 214.23V233.48M173.25 224.77h2.2M174.35 212.6V236.93M175.3 231.09h2.22M176.42 221.89V240.28M177 215.46h3.54M178.77 200.16V230.76M179.95 220.12h3.23M181.57 211.23V229M185.32 224.78h2.73M186.68 213.58V235.98M192.58 234.77h3.63M194.4 219.99V242.5M205.37 231.96h2.91M206.83 223.06V240.86M209.93 217.19h2.2M211.03 210.96V223.43M211.99 219.37h2.32M213.15 209.69V229.04M214.06 218.15h2.73M215.43 208.43V227.88M215.97 232.35h3.44M217.69 222.62V242.09M218.42 222.21h2.76M219.8 215.45V228.97M222.19 229.38h3.74M224.06 220.53V238.22M227.97 217.99h2.3M229.12 210.47V225.51M230.01 219.62h2.49M231.26 213.18V226.06M234.01 220.68h2.75M235.39 214.3V227.05M238.57 231.36h2.37M239.76 225.19V237.52M240.34 214.06h3.38M242.02 207.62V220.49M248 217.81h2.79M249.39 208.56V227.06M252.88 229.08h2.53M254.15 221.02V237.14M254.64 223h3.03M256.15 216.03V229.97M256.35 214.05h4.17M258.44 203.85V224.26M268.67 231.91h4.27M270.81 223.38V240.43M278.57 234.48h3.92M280.53 222.89V242.5M288.97 223.64h3.29M290.62 214.34V232.94M296.73 217.07h2.63M298.04 207.61V226.54M298.41 233.75h4.36M300.6 220.86V242.5M312.13 218.49h3.77M314.02 208.77V228.21M323.57 217.82h4.96M326.05 202.16V233.49M327.33 217.06h4.06M329.36 205.79V228.34M336.5 212.64h3.17M338.08 201.82V223.46M338.68 218.82h4.63M341 202.47V235.16M342.48 235.32h2.93M343.94 218.91V242.5M175.61 217.3h3.32M177.27 206.98V227.62M178.13 225.25h3.54M179.9 217.08V233.43M181.17 218.42h2.91M182.63 206.78V230.07M183.97 220.06h3.05M185.49 208.98V231.13M186.82 228.4h3.48M188.56 215.77V241.02M190.06 229.29h2.2M191.16 219.15V239.43M191.88 217.81h2.82M193.29 209.31V226.32M193.82 221.78h4.17M195.91 211.7V231.87M196.63 227.61h4.16M198.71 216.71V238.51M199.33 221.89h4.55M201.61 212.93V230.85M202.66 223.26h3.47M204.39 217.08V229.44M205.3 221.11h3.06M206.82 212.12V230.1M207.2 219.55h4.87M209.64 210.56V228.54M210.91 222.93h3.18M212.5 213.33V232.53M213.72 222.32h2.2M214.82 214.32V230.32M215.32 227.03h3.49M217.07 217.51V236.56M217.75 221.97h3.17M219.34 215.72V228.23M220.11 222.06h2.81M221.51 214.38V229.74M222.54 218.39h2.38M223.73 209.93V226.86M224.65 219.41h2.91M226.1 213.31V225.51M227.15 226.3h3.57M228.94 217.51V235.09M230.04 213.21h3.43M231.75 204.19V222.24M232.5 222.01h3.1M234.05 212.37V231.65M235.06 220.26h2.5M236.31 213.78V226.74M237.27 222.69h2.58M238.56 214.9V230.48M239.25 215.86h3.28M240.89 206.36V225.37M241.43 221.76h4.16M243.5 212.68V230.84M244.68 221.13h3.32M246.34 214.86V227.39M247.07 218.77h4.42M249.27 209.35V228.19M250.63 213.98h2.89M252.08 206.93V221.03M253.28 222.35h2.36M254.46 212.83V231.87M255.22 216.22h3.51M256.98 208.37V224.07M258.1 219.92h2.95M259.58 211.5V228.33M260.43 221.63h3.53M262.2 213.7V229.56M263.29 220.32h3.93M265.26 214.26V226.38M266.58 222.68h2.53M267.85 216.74V228.61M268.09 227.24h4.27M270.23 221.51V232.97M271.08 215.64h3.77M272.96 207.36V223.92M273.9 216.6h3.08M275.44 211.31V221.89M275.92 222.24h4.36M278.1 217.01V227.46M279.62 230.43h2.7M280.97 221.97V238.89M281.54 206.69h4.09M283.59 198.2V215.18M284.61 220.21h3.49M286.36 211.87V228.55M287.06 233.81h4.3M289.21 224.57V242.5M290.15 218.85h3.44M291.87 210.11V227.58M292.67 227.17h3.36M294.35 219.38V234.96M295.12 213.84h3.01M296.63 205.8V221.89M297.25 223.35h3.33M298.91 214.87V231.83" stroke="#5c5cff" stroke-width="1.2" fill="none"/><path d="M209.1 206.4h7.6M212.9 188V214M37.1 221.3h3.6M38.9 212.4V229.9M40.6 221.3h3.6M42.4 213.9V229.9M44.2 221.3h3.6M46 212.4V229.9M41.8 233.4h17M50.3 226.3V239.9M48.1 218.4h15.8M56 212V228.4M59.4 194.3h7.8M63.3 178.9V217M64 213.4h12M70 208V219M64.3 231.3h9.2M68.9 224.9V238.4M72.8 208h5M75.3 194.6V220M77.4 201.4h11.4M83.1 183.9V213.9M82.4 213.4h10M87.4 200V226M89.3 201h10.4M94.5 181.7V234.5M90 213.4h8.6M94.3 205V222M99.7 218.4h9.2M104.3 201V235.6M100.3 229.1h13.6M107.1 210.3V247M97 251h13.2M103.6 242.5V256M106.8 232h17.8M115.7 228.4V246.3M109.2 237.7h12M115.2 231V244M112.6 221.3h12M118.6 219.9V243.4M121.6 223.1h11.6M127.4 208V235.6M133.3 191h8.6M137.6 173.5V210.3M128 216.3h20.6M138.3 203.9V229.1M141.6 209.6h7.6M145.4 190.4V236.4M147 206.4h16M155 191.4V231M159.8 206.4h11.8M165.7 187.1V238.5M168.5 230h5M171 227.8V238.5M174.45 208.37h2.74M175.82 194.11V222.63M176.73 216.44h3.27M178.36 205.47V227.4M181.66 223.69h2.43M182.88 213.7V233.68M186.24 222.95h2.77M187.63 214.29V231.61M188.13 219.83h2.79M189.53 207.9V231.77M190.21 224.59h2.65M191.53 210.09V239.09M192.12 232.64h3.3M193.77 217.09V242.5M196.95 223.13h1.85M197.87 208.25V238.02M201.08 218.48h2.27M202.22 206V230.96M203.01 215.74h2.95M204.49 202.51V228.96M205.5 216.12h2.54M206.77 204.52V227.72M210.92 222.51h3.23M212.53 209.44V235.59M215.96 218.15h2.41M217.16 204.1V232.2" stroke="#ff2c2c" stroke-width="1.2" fill="none"/><path d="M183.5 170.1h3M185 165V188.7M225.2 203h3M226.7 192.6V214M243.3 200.2h3.6M245.1 189.5V209.5M268.2 205h3M269.7 197.2V214M282 205h3M283.5 197.2V214M294 195h3.6M295.8 183.4V208M310.1 191h4M312.1 174.1V209.5M319.5 195h3.6M321.3 181.8V208M316.8 213h4M318.8 206.4V220.2M329.1 225h4M331.1 211V238.6M338.3 226h4M340.3 214V238.6M152.1 186.6h11.6M157.9 166V213M158.7 224.6h14M165.7 215V238.5M167.5 230h5M170 217V234.3M170.8 205.3h7M174.3 189.3V227.8" stroke="#1e1eff" stroke-width="1.2" fill="none"/><path d="M182.93 227.73h2.56M184.21 213.37V242.1M187.75 223.34h3.19M189.34 211.74V234.94M190.5 220.15h2.81M191.91 209.47V230.84M195.53 230.23h3.25M197.15 220.83V239.62M198.17 216.6h2.97M199.66 203.29V229.91M200.23 224.44h3.51M201.98 217.3V231.57M202.92 229.62h3.3M204.57 219.61V239.63M207.79 234.78h2.24M208.91 226.03V242.5M220.61 217.86h2.32M221.78 210.25V225.47M224.7 223.35h3.99M226.7 214.09V232.6M232.14 219.98h2.2M233.24 213.59V226.36M236.28 216.33h2.8M237.68 210.07V222.59M242.94 221.52h3.07M244.47 215.7V227.35M245.51 222.99h2.85M246.94 214.11V231.86M249.93 216.56h3.8M251.83 206.37V226.75M259.37 221.74h2.85M260.8 214.17V229.3M261.27 219.5h4M263.27 210.49V228.5M264.2 214.53h3.29M265.84 204.49V224.56M266.74 228.21h2.81M268.15 217.45V238.98M271.67 217.14h3.55M273.45 210.01V224.27M274.35 213.89h2.8M275.76 202.91V224.87M276.24 223.29h3.65M278.07 216.94V229.64M281.67 219.08h2.75M283.04 211.14V227.02M283.99 215.56h2.92M285.45 206.9V224.22M286.31 212.54h3.34M287.98 201.12V223.97M291.8 222.83h2.43M293.02 212V233.66M293.66 225.54h3.71M295.51 216.1V234.99M301.49 227.18h4.36M303.67 214.31V240.06M304.68 239.68h4.46M306.91 226.57V242.5M307.86 220.72h4.98M310.35 209.95V231.49M315.19 216.79h3.95M317.16 202.52V231.07M317.77 225.06h4.26M319.9 210.38V239.73M320.95 226.97h3.55M322.73 210.28V242.5M330.17 216.62h4.49M332.41 204.3V228.94M333.41 221.71h3.94M335.38 204.74V238.68M345.26 227.13h3.57M347.05 214.94V239.31" stroke="#1e1eff" stroke-width="1.2" fill="none"/></g>
</svg>
</body></html>
